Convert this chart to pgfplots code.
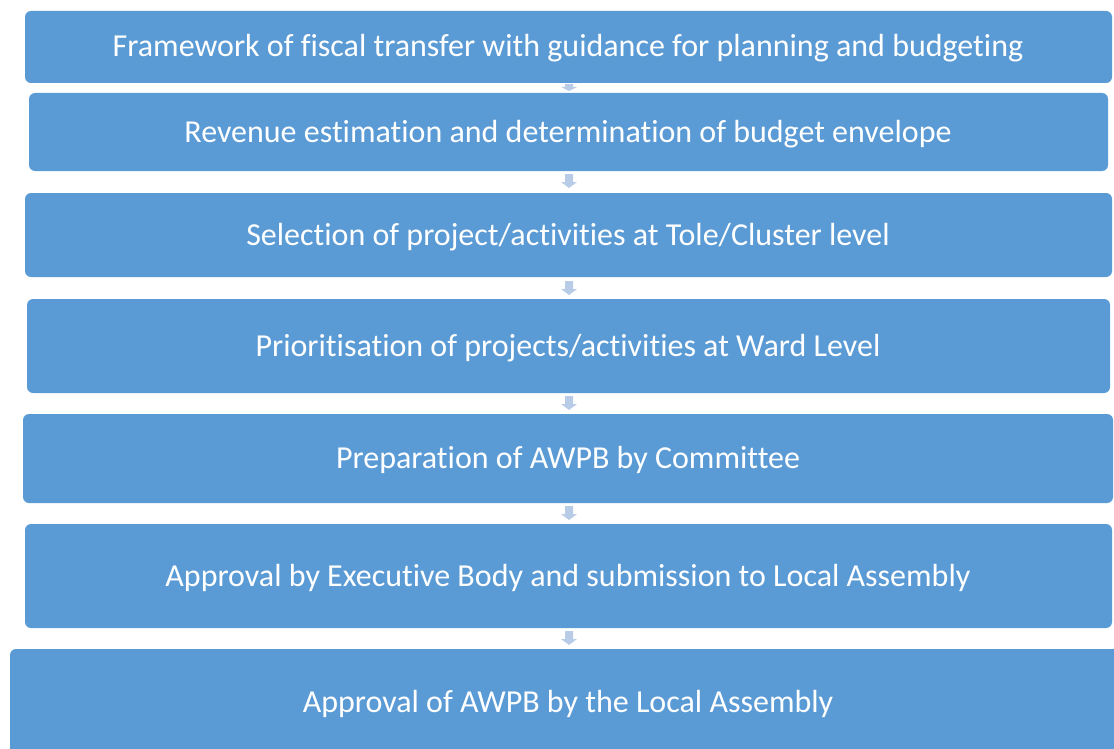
\documentclass[border=0pt]{standalone}
\usepackage{fontspec}
\setmainfont{Carlito}[Ligatures=NoCommon]
\usepackage{pgfplots}
\pgfplotsset{compat=1.18}

\definecolor{boxblue}{HTML}{5B9BD5}
\definecolor{arrowblue}{HTML}{B8CCE8}

\tikzset{steplabel/.style={text=white, inner sep=0pt, anchor=base,
    font=\fontsize{16bp}{19bp}\selectfont}}

% pixel grid of the reference: 1 px = 0.5 bp
\newcommand{\steparrow}[1]{% #1 = top of the arrow
  \addplot[draw=none, fill=arrowblue] coordinates {
    (565,#1) (573,#1) (573,#1+8) (577,#1+8) (569,#1+14) (561,#1+8) (565,#1+8)} -- cycle;}

\begin{document}
\begin{tikzpicture}
\begin{axis}[
    width=557bp, height=374.5bp,
    scale only axis,
    xmin=0, xmax=1114, ymin=0, ymax=749,
    y dir=reverse,
    hide axis,
    clip=true,
]
% invisible frame, keeps the page as large as the reference
\addplot[draw=none, forget plot] coordinates {(0,0) (1114,749)};

% arrows between the steps
\addplot[draw=none, fill=arrowblue] coordinates {
    (565,84) (573,84) (573,87) (577,87) (569,91) (561,87) (565,87)} -- cycle;
\steparrow{174}
\steparrow{281}
\steparrow{396}
\steparrow{506}
\steparrow{631}

% step boxes
\addplot[draw=none, fill=boxblue, rounded corners=3bp] coordinates {(25,11) (1112,11) (1112,83) (25,83)} -- cycle;
\addplot[draw=none, fill=boxblue, rounded corners=3bp] coordinates {(29,93) (1108,93) (1108,171) (29,171)} -- cycle;
\addplot[draw=none, fill=boxblue, rounded corners=3bp] coordinates {(25,193) (1112,193) (1112,277) (25,277)} -- cycle;
\addplot[draw=none, fill=boxblue, rounded corners=3bp] coordinates {(27,299) (1110,299) (1110,393) (27,393)} -- cycle;
\addplot[draw=none, fill=boxblue, rounded corners=3bp] coordinates {(23,414) (1113,414) (1113,503) (23,503)} -- cycle;
\addplot[draw=none, fill=boxblue, rounded corners=3bp] coordinates {(25,524) (1112,524) (1112,628) (25,628)} -- cycle;
\addplot[draw=none, fill=boxblue, rounded corners=3bp] coordinates {(10,649) (1125,649) (1125,760) (10,760)} -- cycle;

\node[steplabel] at (axis cs:568,57) {Framework of fiscal transfer with guidance for planning and budgeting};
\node[steplabel] at (axis cs:568,142) {Revenue estimation and determination of budget envelope};
\node[steplabel] at (axis cs:568,245) {Selection of project/activities at Tole/Cluster level};
\node[steplabel] at (axis cs:568,356) {Prioritisation of projects/activities at Ward Level};
\node[steplabel] at (axis cs:568,468) {Preparation of AWPB by Committee};
\node[steplabel] at (axis cs:568,586) {Approval by Executive Body and submission to Local Assembly};
\node[steplabel] at (axis cs:568,712) {Approval of AWPB by the Local Assembly};
\end{axis}
\end{tikzpicture}
\end{document}
